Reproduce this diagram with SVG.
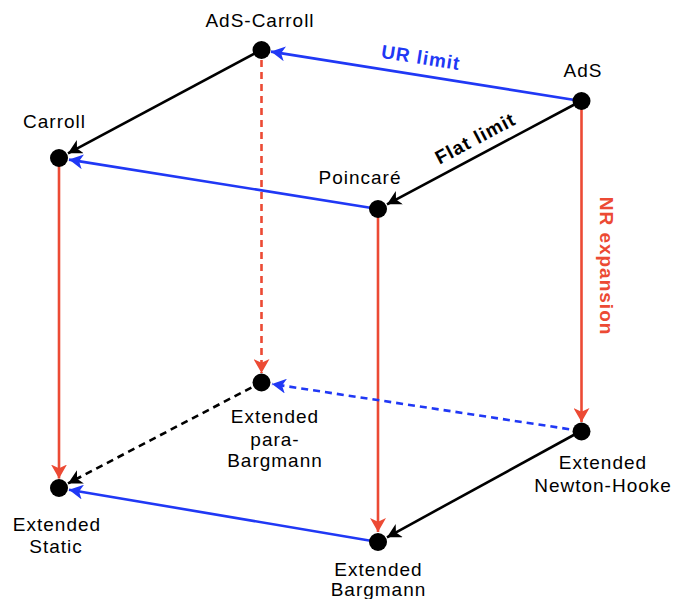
<svg xmlns="http://www.w3.org/2000/svg" width="678" height="599" viewBox="0 0 678 599">
<style>
.lbl{font-family:"Liberation Sans",Arial,sans-serif;font-size:19px;letter-spacing:1px;fill:#000;text-anchor:middle}
.bold{font-weight:bold}
.e{fill:none;stroke-width:2.6}
.k{stroke:#000}
.b{stroke:#2038f5}
.r{stroke:#ec4a34}
.d{stroke-dasharray:7 5}
.dot{fill:#000}
</style>
<defs>
<marker id="ak" markerUnits="userSpaceOnUse" markerWidth="15" markerHeight="15" refX="14" refY="7.5" orient="auto" viewBox="0 0 15 15"><path d="M0,0 L14,7.5 L0,15 L3.8,7.5 z" fill="#000"/></marker>
<marker id="ab" markerUnits="userSpaceOnUse" markerWidth="15" markerHeight="15" refX="14" refY="7.5" orient="auto" viewBox="0 0 15 15"><path d="M0,0 L14,7.5 L0,15 L3.8,7.5 z" fill="#2038f5"/></marker>
<marker id="ar" markerUnits="userSpaceOnUse" markerWidth="15" markerHeight="16" refX="14" refY="8" orient="auto" viewBox="0 0 15 16"><path d="M0,0 L14,8 L0,16 L3.8,8 z" fill="#ec4a34"/></marker>
</defs>
<g id="connectors">
<line class="e b" x1="581" y1="101" x2="271" y2="51.6" marker-end="url(#ab)"/>
<line class="e k" x1="261" y1="50" x2="68" y2="153.3" marker-end="url(#ak)"/>
<line class="e k" x1="581" y1="101" x2="387" y2="204.3" marker-end="url(#ak)"/>
<line class="e b" x1="378" y1="209" x2="69" y2="159.6" marker-end="url(#ab)"/>
<line class="e r" x1="581.5" y1="101" x2="581.5" y2="422" marker-end="url(#ar)"/>
<line class="e r" x1="59" y1="158" x2="59" y2="478.5" marker-end="url(#ar)"/>
<line class="e r" x1="378" y1="209" x2="378" y2="532" marker-end="url(#ar)"/>
<line class="e r d" x1="261.5" y1="60" x2="261.5" y2="373" marker-end="url(#ar)"/>
<line class="e b d" x1="581" y1="431" x2="272" y2="384" marker-end="url(#ab)"/>
<line class="e k d" x1="262" y1="382" x2="68" y2="483.4" marker-end="url(#ak)"/>
<line class="e k" x1="581" y1="431" x2="387" y2="537.3" marker-end="url(#ak)"/>
<line class="e b" x1="378" y1="542" x2="69" y2="489.7" marker-end="url(#ab)"/>
</g>
<g id="edge-labels">
<text class="lbl bold" style="fill:#2038f5" transform="translate(421,57) rotate(9)" y="7">UR limit</text>
<text class="lbl bold" transform="translate(475,138) rotate(-28)" y="7">Flat limit</text>
<text class="lbl bold" style="fill:#ec4a34" transform="translate(600,266) rotate(90)" y="0">NR expansion</text>
</g>
<g id="AdS-Carroll"><circle class="dot" cx="261.5" cy="50" r="9"/><text class="lbl" x="260" y="26.5">AdS-Carroll</text></g>
<g id="AdS"><circle class="dot" cx="581.5" cy="101" r="9"/><text class="lbl" x="583" y="77">AdS</text></g>
<g id="Carroll"><circle class="dot" cx="59" cy="158" r="9"/><text class="lbl" x="54.5" y="128">Carroll</text></g>
<g id="Poincare"><circle class="dot" cx="378" cy="209" r="9"/><text class="lbl" x="360" y="184">Poincaré</text></g>
<g id="ExtParaBargmann"><circle class="dot" cx="261.5" cy="382.5" r="9"/><text class="lbl" x="275" y="423">Extended</text><text class="lbl" x="275" y="446">para-</text><text class="lbl" x="275" y="467">Bargmann</text></g>
<g id="ExtNewtonHooke"><circle class="dot" cx="581.5" cy="431.5" r="9"/><text class="lbl" x="603" y="469">Extended</text><text class="lbl" x="603" y="492">Newton-Hooke</text></g>
<g id="ExtStatic"><circle class="dot" cx="59" cy="488" r="9"/><text class="lbl" x="57" y="531">Extended</text><text class="lbl" x="56" y="553">Static</text></g>
<g id="ExtBargmann"><circle class="dot" cx="378" cy="542" r="9"/><text class="lbl" x="378.5" y="576">Extended</text><text class="lbl" x="378.5" y="596">Bargmann</text></g>
</svg>
